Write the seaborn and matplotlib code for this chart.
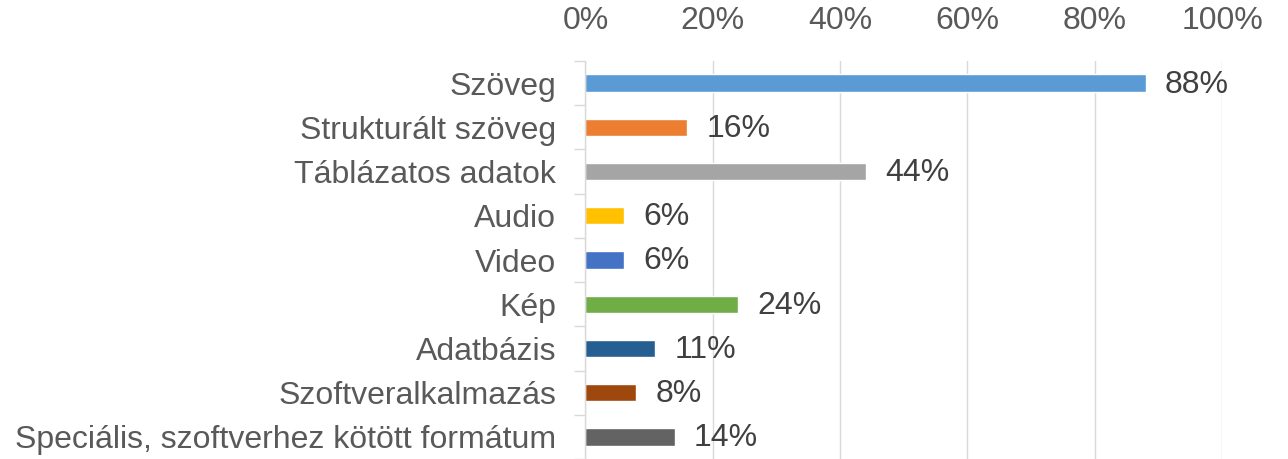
import pandas as pd
import numpy as np
import matplotlib.pyplot as plt
from matplotlib.ticker import FixedLocator, PercentFormatter
import seaborn as sns

# adatformátumok aránya
categories = ['Szöveg', 'Strukturált szöveg', 'Táblázatos adatok', 'Audio', 'Video',
              'Kép', 'Adatbázis', 'Szoftveralkalmazás',
              'Speciális, szoftverhez kötött formátum']
shares = [88, 16, 44, 6, 6, 24, 11, 8, 14]
bar_colors = ['#5B9BD5', '#ED7D31', '#A5A5A5', '#FFC000', '#4472C4',
              '#70AD47', '#255E91', '#9E480E', '#636363']
x_ticks = [0, 20, 40, 60, 80, 100]

df = pd.DataFrame({'category': categories, 'share': shares})

sns.set_style('white')
plt.rcParams['font.family'] = ['Liberation Sans', 'DejaVu Sans']
text_color = '#595959'

fig = plt.figure(figsize=(12.88, 4.59), dpi=100)
ax = fig.add_axes([0.4545, 0.0, 0.9488 - 0.4545, 1 - 61 / 459])

sns.barplot(data=df, x='share', y='category', hue='category', palette=bar_colors,
            orient='h', width=0.39, legend=False, ax=ax, saturation=1)

ax.set_xlim(0, 100)
ax.set_ylim(len(categories) - 0.5, -0.5)
ax.xaxis.tick_top()
ax.set_xticks(x_ticks)
ax.xaxis.set_major_formatter(PercentFormatter(decimals=0))
ax.tick_params(axis='x', length=0, pad=18, labelsize=23, labelcolor=text_color)
ax.tick_params(axis='y', which='major', left=True, length=0, pad=21, labelsize=23,
               labelcolor=text_color)
ax.yaxis.set_minor_locator(FixedLocator(np.arange(-0.5, len(categories), 1)))
ax.tick_params(axis='y', which='minor', left=True, length=8, width=1, color='#D9D9D9',
               direction='out')
ax.grid(axis='x', color='#D9D9D9', linewidth=1)
ax.set_axisbelow(True)
ax.set_xlabel('')
ax.set_ylabel('')

for s in ['top', 'right', 'bottom']:
    ax.spines[s].set_visible(False)
ax.spines['left'].set_color('#D9D9D9')
ax.spines['left'].set_linewidth(1)

for i, v in enumerate(shares):
    ax.annotate(f'{v}%', xy=(v, i), xytext=(14, -1), textcoords='offset points',
                ha='left', va='center', fontsize=23, color='#404040')

fig.savefig('out.png', dpi=100)
